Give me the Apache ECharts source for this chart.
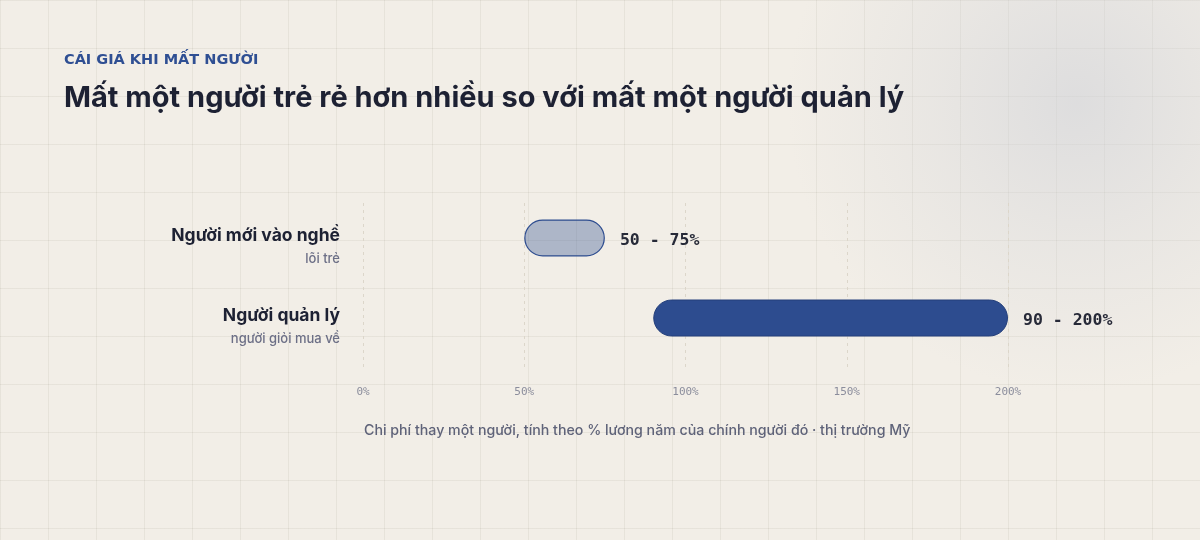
<!DOCTYPE html>
<html>
<head>
<meta charset="utf-8">
<script src="https://cdn.jsdelivr.net/npm/echarts@6/dist/echarts.min.js"></script>
<style>
html,body{margin:0;padding:0;}
body{
  width:1200px;height:540px;overflow:hidden;
  background-color:#f2eee7;
  background-image:
    radial-gradient(circle at 1077px 103px, rgba(208,210,216,0.6) 0px, rgba(208,210,216,0.28) 140px, rgba(208,210,216,0) 290px),
    linear-gradient(to right, rgba(120,110,90,0.09) 1px, transparent 1px),
    linear-gradient(to bottom, rgba(120,110,90,0.09) 1px, transparent 1px);
  background-size: 1200px 540px, 48px 48px, 48px 48px;
}
#chart{width:1200px;height:540px;}
</style>
</head>
<body>
<div id="chart"></div>
<script>
const categories = ['Người mới vào nghề', 'Người quản lý'];
const subLabels = ['lõi trẻ', 'người giỏi mua về'];
const lowValues = [50, 90];
const highValues = [75, 200];
const axisMin = 0, axisMax = 200, axisStep = 50;

const kicker = 'CÁI GIÁ KHI MẤT NGƯỜI';
const headline = 'Mất một người trẻ rẻ hơn nhiều so với mất một người quản lý';
const footnote = 'Chi phí thay một người, tính theo % lương năm của chính người đó · thị trường Mỹ';

const SANS = 'Inter, "Noto Sans", sans-serif';
const MONO = '"DejaVu Sans Mono", "Liberation Mono", monospace';

const chart = echarts.init(document.getElementById('chart'), null, {renderer: 'canvas'});

const rangeData = categories.map((c, i) => ({
  value: highValues[i] - lowValues[i],
  itemStyle: i === 0
    ? {color: 'rgba(45,76,143,0.35)', borderColor: '#2d4c8f', borderWidth: 1.2, borderRadius: 18.5}
    : {color: '#2d4c8f', borderColor: '#243f7a', borderWidth: 1, borderRadius: 18.5}
}));

chart.setOption({
  backgroundColor: 'transparent',
  animation: false,
  title: [
    {text: kicker, left: 64, top: 53, padding: 0,
     textStyle: {fontFamily: '"DejaVu Sans", sans-serif', fontSize: 14.5, fontWeight: 700, color: '#2f4f93'}},
    {text: headline, left: 64, top: 84, padding: 0,
     textStyle: {fontFamily: SANS, fontSize: 29, fontWeight: 700, color: '#1d2133'}}
  ],
  graphic: [
    {type: 'text', left: 364, top: 424,
     style: {text: footnote, font: '500 14.2px ' + SANS, fill: '#5f6379'}}
  ],
  grid: [
    {left: 363, right: 192, top: 198, height: 160},
    {left: 363, right: 192, top: 203, height: 168}
  ],
  xAxis: [
    {gridIndex: 0, type: 'value', min: axisMin, max: axisMax, interval: axisStep,
     show: false},
    {gridIndex: 1, type: 'value', min: axisMin, max: axisMax, interval: axisStep,
     axisLine: {show: false}, axisTick: {show: false},
     splitLine: {show: true, lineStyle: {color: '#dcd6ca', type: [3, 4], width: 1}},
     axisLabel: {margin: 16, formatter: '{value}%', fontFamily: MONO, fontSize: 11, color: '#8b8d9c'}}
  ],
  yAxis: [
    {gridIndex: 0, type: 'category', data: categories, inverse: true,
     axisLine: {show: false}, axisTick: {show: false}, splitLine: {show: false},
     axisLabel: {
       margin: 23,
       align: 'right',
       lineHeight: 24,
       padding: [19, 0, 0, 0],
       formatter: (v, i) => '{n|' + v + '}\n{s|' + subLabels[i] + '}',
       rich: {
         n: {fontFamily: SANS, fontSize: 17.5, fontWeight: 700, color: '#1d2133', lineHeight: 24, align: 'right'},
         s: {fontFamily: SANS, fontSize: 13, fontWeight: 500, color: '#6c6f86', lineHeight: 24, align: 'right'}
       }
     }},
    {gridIndex: 1, type: 'value', min: 0, max: 1, show: false}
  ],
  series: [
    {name: 'base', type: 'bar', stack: 'range', xAxisIndex: 0, yAxisIndex: 0,
     data: lowValues, barWidth: 37, silent: true,
     itemStyle: {color: 'transparent'}},
    {name: 'range', type: 'bar', stack: 'range', xAxisIndex: 0, yAxisIndex: 0,
     data: rangeData, barWidth: 37,
     label: {show: true, position: 'right', distance: 15, offset: [0, 3],
       formatter: p => lowValues[p.dataIndex] + ' - ' + highValues[p.dataIndex] + '%',
       fontFamily: MONO, fontSize: 16.5, fontWeight: 700, color: '#272a38'}}
  ]
});
</script>
</body>
</html>
